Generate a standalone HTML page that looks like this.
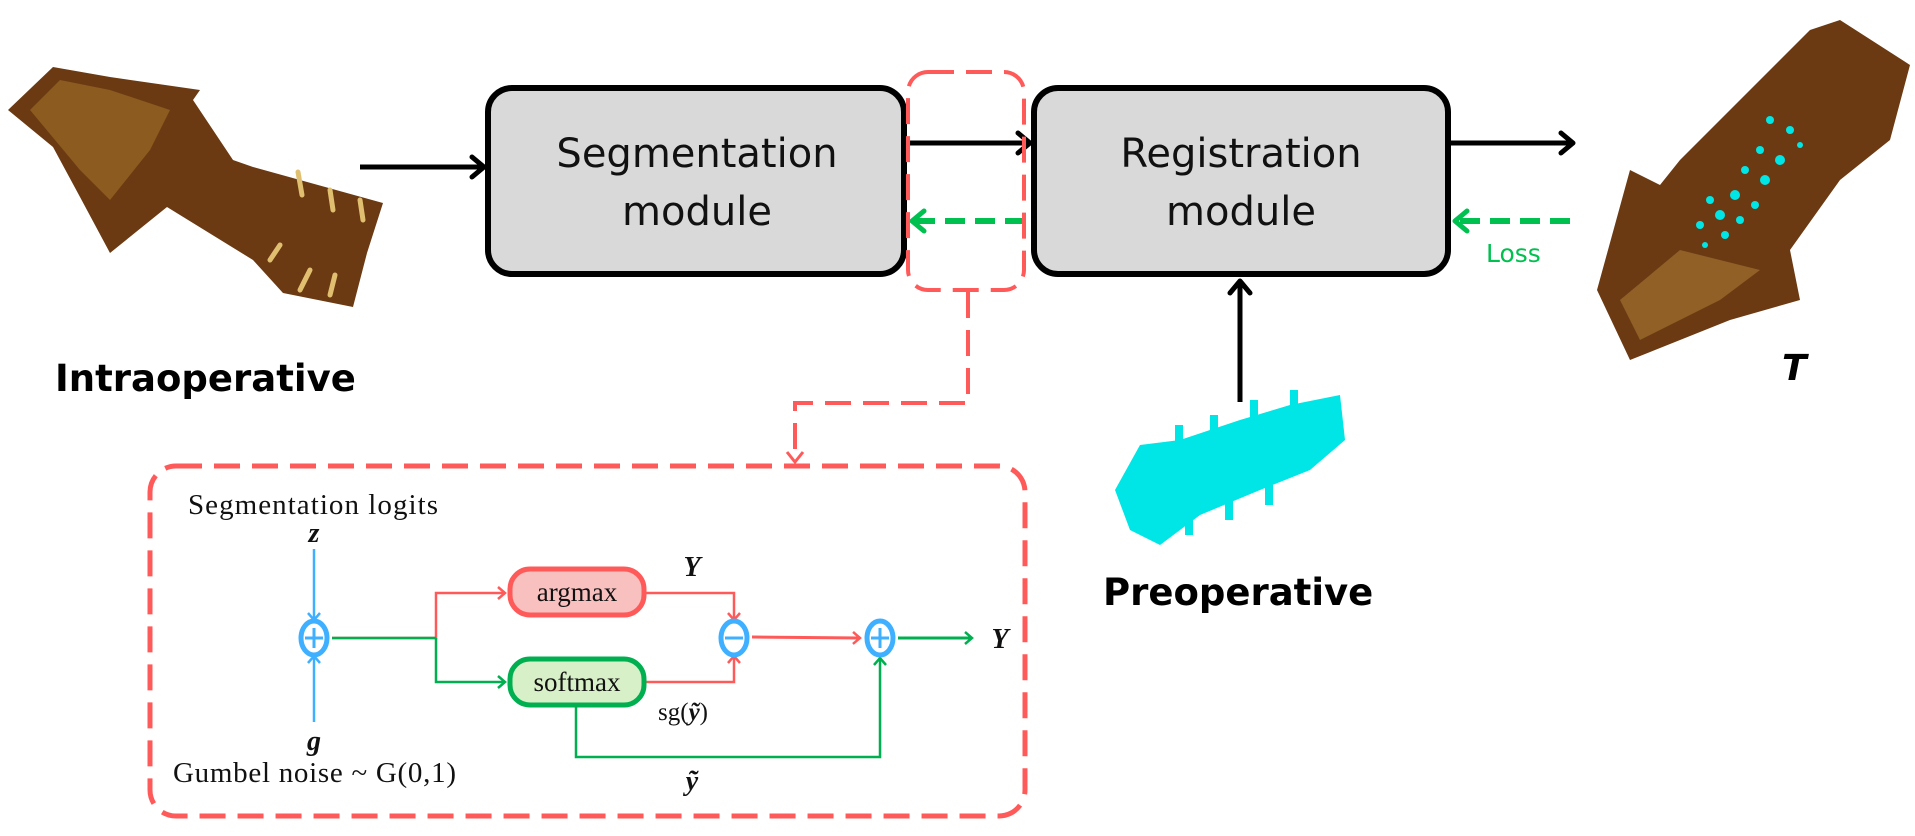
<!DOCTYPE html>
<html><head><meta charset="utf-8"><style>
html,body{margin:0;padding:0;background:#fff;}
svg{display:block}
</style></head><body>
<svg width="1915" height="836" viewBox="0 0 1915 836" xmlns="http://www.w3.org/2000/svg">
<defs>
<marker id="ab" markerWidth="20" markerHeight="26" refX="15" refY="13" orient="auto" markerUnits="userSpaceOnUse"><path d="M3,3 L15,13 L3,23" fill="none" stroke="#000" stroke-width="5" stroke-linecap="round" stroke-linejoin="round"/></marker>
<marker id="ag" markerWidth="20" markerHeight="26" refX="15" refY="13" orient="auto" markerUnits="userSpaceOnUse"><path d="M3,3 L15,13 L3,23" fill="none" stroke="#00c050" stroke-width="5" stroke-linecap="round" stroke-linejoin="round"/></marker>
<marker id="ar" markerWidth="12" markerHeight="16" refX="9" refY="8" orient="auto" markerUnits="userSpaceOnUse"><path d="M2,2 L9,8 L2,14" fill="none" stroke="#ff5a5a" stroke-width="2.5"/></marker>
<marker id="agr" markerWidth="12" markerHeight="16" refX="9" refY="8" orient="auto" markerUnits="userSpaceOnUse"><path d="M2,2 L9,8 L2,14" fill="none" stroke="#00b050" stroke-width="2.5"/></marker>
<marker id="abl" markerWidth="12" markerHeight="16" refX="9" refY="8" orient="auto" markerUnits="userSpaceOnUse"><path d="M2,2 L9,8 L2,14" fill="none" stroke="#3fb0ff" stroke-width="2.5"/></marker>
</defs>

<polygon points="8,110 53,67 110,77 200,90 193,100 233,160 253,167 383,203 367,253 353,307 283,293 253,260 167,207 110,253 80,197 53,147" fill="#6b3a12"/>
<polygon points="30,110 60,80 110,90 170,110 150,150 110,200 80,170" fill="#9a6a25" opacity="0.7"/>
<g stroke="#e0c070" stroke-width="5" stroke-linecap="round"><line x1="298" y1="172" x2="302" y2="195"/><line x1="330" y1="190" x2="333" y2="210"/><line x1="360" y1="200" x2="363" y2="220"/><line x1="270" y1="260" x2="280" y2="245"/><line x1="300" y1="290" x2="310" y2="270"/><line x1="330" y1="295" x2="335" y2="275"/></g>

<polygon points="1597,290 1630,170 1660,185 1680,160 1750,90 1810,30 1840,20 1910,65 1890,140 1840,180 1790,250 1800,300 1730,320 1630,360" fill="#6b3a12"/>
<polygon points="1620,300 1680,250 1760,270 1720,300 1640,340" fill="#a07030" opacity="0.7"/>
<g fill="#00e5e5"><circle cx="1770" cy="120" r="4"/><circle cx="1790" cy="130" r="4"/><circle cx="1760" cy="150" r="4"/><circle cx="1780" cy="160" r="5"/><circle cx="1745" cy="170" r="4"/><circle cx="1765" cy="180" r="5"/><circle cx="1735" cy="195" r="5"/><circle cx="1755" cy="205" r="4"/><circle cx="1720" cy="215" r="5"/><circle cx="1740" cy="220" r="4"/><circle cx="1700" cy="225" r="4"/><circle cx="1725" cy="235" r="4"/><circle cx="1710" cy="200" r="4"/><circle cx="1800" cy="145" r="3"/><circle cx="1705" cy="245" r="3"/></g>

<g fill="#00e5e5"><polygon points="1115,490 1140,445 1180,440 1240,420 1290,405 1340,395 1345,440 1310,470 1260,490 1200,515 1160,545 1130,530"/><rect x="1175" y="425" width="8" height="30"/><rect x="1210" y="415" width="8" height="30"/><rect x="1250" y="400" width="8" height="30"/><rect x="1290" y="390" width="8" height="20"/><rect x="1185" y="510" width="8" height="25"/><rect x="1225" y="495" width="8" height="25"/><rect x="1265" y="485" width="8" height="20"/></g>

<rect x="488" y="88" width="416" height="186" rx="24" fill="#d9d9d9" stroke="#000" stroke-width="6"/>
<rect x="1034" y="88" width="414" height="186" rx="24" fill="#d9d9d9" stroke="#000" stroke-width="6"/>
<g font-family="'DejaVu Sans','Liberation Sans',sans-serif" font-size="40" text-anchor="middle" fill="#111">
<text x="697" y="167">Segmentation</text><text x="697" y="225">module</text>
<text x="1241" y="167">Registration</text><text x="1241" y="225">module</text>
</g>

<line x1="360" y1="167" x2="484" y2="167" stroke="#000" stroke-width="5" marker-end="url(#ab)"/>
<line x1="906" y1="143" x2="1030" y2="143" stroke="#000" stroke-width="5" marker-end="url(#ab)"/>
<line x1="1451" y1="143" x2="1573" y2="143" stroke="#000" stroke-width="5" marker-end="url(#ab)"/>
<line x1="1240" y1="402" x2="1240" y2="281" stroke="#000" stroke-width="5" marker-end="url(#ab)"/>
<line x1="1025" y1="221" x2="912" y2="221" stroke="#00c050" stroke-width="6" stroke-dasharray="20,10" marker-end="url(#ag)"/>
<line x1="1570" y1="221" x2="1455" y2="221" stroke="#00c050" stroke-width="6" stroke-dasharray="20,10" marker-end="url(#ag)"/>
<text x="1486" y="262" font-family="'DejaVu Sans',sans-serif" font-size="25" fill="#00c050">Loss</text>

<rect x="908" y="72" width="116" height="218" rx="20" fill="none" stroke="#ff5a5a" stroke-width="4" stroke-dasharray="26,12"/>
<polyline points="968,292 968,403 795,403 795,458" fill="none" stroke="#ff5a5a" stroke-width="4" stroke-dasharray="26,12"/>
<path d="M787,452 L795,462 L803,452" fill="none" stroke="#ff5a5a" stroke-width="3"/>
<rect x="150" y="466" width="875" height="350" rx="26" fill="none" stroke="#ff5a5a" stroke-width="5" stroke-dasharray="26,12"/>

<g font-family="'DejaVu Sans','Liberation Sans',sans-serif" font-weight="bold" fill="#000">
<text x="55" y="391" font-size="37">Intraoperative</text>
<text x="1103" y="605" font-size="37">Preoperative</text>
<text x="1782" y="380" font-size="36" font-style="italic">T</text>
</g>

<g font-family="'Liberation Serif',serif" fill="#111">
<text x="188" y="514" font-size="29" textLength="250">Segmentation logits</text>
<text x="314" y="542" font-size="28" font-weight="bold" font-style="italic" text-anchor="middle">z</text>
<text x="314" y="750" font-size="28" font-weight="bold" font-style="italic" text-anchor="middle">g</text>
<text x="173" y="782" font-size="29" textLength="283">Gumbel noise ~ G(0,1)</text>
<text x="692" y="576" font-size="28" font-weight="bold" font-style="italic" text-anchor="middle">Y</text>
<text x="1000" y="648" font-size="28" font-weight="bold" font-style="italic" text-anchor="middle">Y</text>
<text x="658" y="720" font-size="25">sg(<tspan font-weight="bold" font-style="italic">ỹ</tspan>)</text>
<text x="692" y="790" font-size="28" font-weight="bold" font-style="italic" text-anchor="middle">ỹ</text>
</g>
<line x1="314" y1="549" x2="314" y2="620" stroke="#3fb0ff" stroke-width="2.5" marker-end="url(#abl)"/>
<line x1="314" y1="722" x2="314" y2="656" stroke="#3fb0ff" stroke-width="2.5" marker-end="url(#abl)"/>
<polyline points="332,638 436,638 436,593 505,593" fill="none" stroke="#ff5a5a" stroke-width="2.5" marker-end="url(#ar)"/>
<polyline points="332,638 436,638" fill="none" stroke="#00b050" stroke-width="2.5"/>
<polyline points="436,638 436,682 505,682" fill="none" stroke="#00b050" stroke-width="2.5" marker-end="url(#agr)"/>
<polyline points="644,593 734,593 734,620" fill="none" stroke="#ff5a5a" stroke-width="2.5" marker-end="url(#ar)"/>
<polyline points="644,682 734,682 734,656" fill="none" stroke="#ff5a5a" stroke-width="2.5" marker-end="url(#ar)"/>
<line x1="752" y1="637" x2="860" y2="638" stroke="#ff5a5a" stroke-width="3" marker-end="url(#ar)"/>
<polyline points="576,706 576,757 880,757 880,658" fill="none" stroke="#00b050" stroke-width="2.5" marker-end="url(#agr)"/>
<line x1="898" y1="638" x2="972" y2="638" stroke="#00b050" stroke-width="3" marker-end="url(#agr)"/>
<rect x="510" y="569" width="134" height="46" rx="20" fill="#f9c0c0" stroke="#ff5a5a" stroke-width="5"/>
<rect x="510" y="659" width="134" height="46" rx="20" fill="#d8f0c8" stroke="#00b050" stroke-width="5"/>
<g font-family="'Liberation Serif',serif" font-size="27" text-anchor="middle" fill="#111">
<text x="577" y="601">argmax</text><text x="577" y="691">softmax</text>
</g>
<g fill="#fff" stroke="#3fb0ff" stroke-width="5">
<ellipse cx="314" cy="638" rx="13" ry="17"/><ellipse cx="734" cy="638" rx="13" ry="17"/><ellipse cx="880" cy="638" rx="13" ry="17"/>
</g>
<g stroke="#3fb0ff" stroke-width="3">
<line x1="305" y1="638" x2="323" y2="638"/><line x1="314" y1="628" x2="314" y2="648"/>
<line x1="725" y1="638" x2="743" y2="638"/>
<line x1="871" y1="638" x2="889" y2="638"/><line x1="880" y1="628" x2="880" y2="648"/>
</g>
</svg>
</body></html>
